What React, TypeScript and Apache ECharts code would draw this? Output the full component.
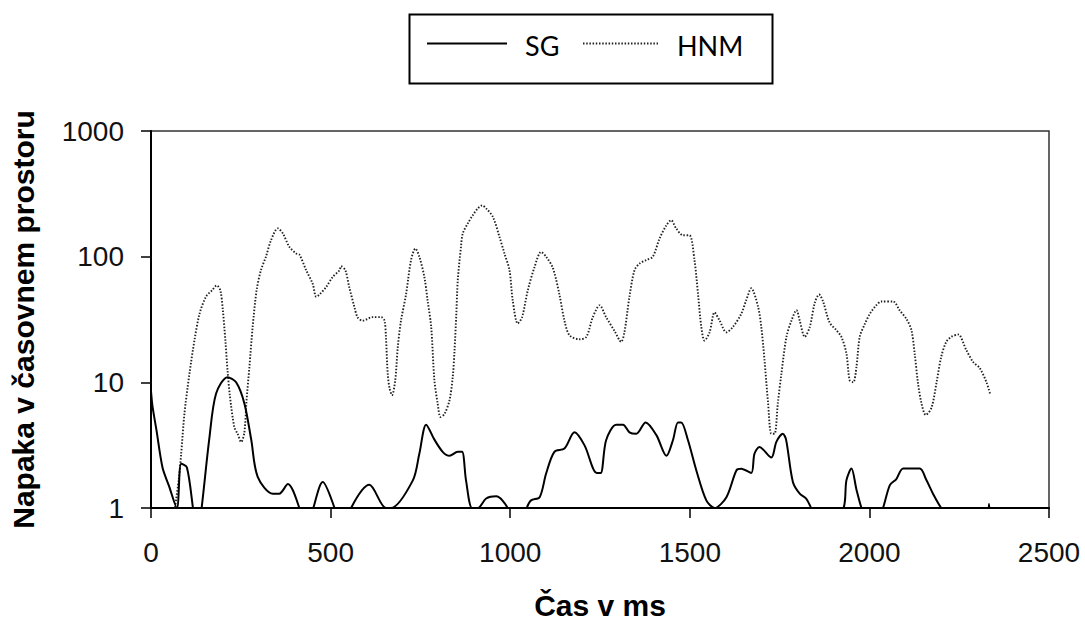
import React, { useEffect, useRef } from "react";
import * as echarts from "echarts";

const seriesNames = ["SG", "HNM"];
const xAxisTitle = "Čas v ms";
const yAxisTitle = "Napaka v časovnem prostoru";
const xTicks = [0, 500, 1000, 1500, 2000, 2500];
const yTicks = [1, 10, 100, 1000];

// SG (solid) – time in ms, error value (values < 1 fall below the log axis and are clipped)
const sgTime = [
  0, 4, 15, 32, 50, 72, 84, 100, 118, 129, 140, 162, 181, 213, 237, 260, 279, 297, 339, 357, 381,
  413, 432, 452, 478, 511, 534, 557, 608, 654, 668, 729, 747, 766, 789, 812, 831, 854, 866, 877,
  894, 910, 933, 961, 993, 1020, 1046, 1058, 1082, 1100, 1123, 1151, 1179, 1207, 1241, 1252,
  1267, 1295, 1314, 1332, 1351, 1377, 1407, 1435, 1453, 1467, 1476, 1495, 1518, 1546, 1569,
  1602, 1630, 1643, 1671, 1680, 1694, 1727, 1741, 1759, 1768, 1787, 1806, 1824, 1838, 1880,
  1928, 1936, 1950, 1964, 1978, 2008, 2038, 2057, 2075, 2094, 2140, 2159, 2177, 2200, 2260,
  2326, 2333, 2340
];
const sgValue = [
  8.5, 6.5, 4.2, 2.1, 1.5, 1.0, 2.25, 2.1, 0.95, 0.6, 0.95, 3.5, 8.1, 11, 10, 6.8, 3.5, 1.77, 1.3, 1.3, 1.55,
  1.0, 0.6, 1.0, 1.61, 1.0, 0.6, 1.0, 1.53, 1.0, 1.0, 1.66, 2.7, 4.6, 3.5, 2.8, 2.6, 2.8, 2.8, 1.66,
  1.0, 1.0, 1.19, 1.24, 1.0, 0.6, 1.0, 1.15, 1.22, 1.88, 2.8, 2.97, 4.0, 3.15, 1.9, 1.9,
  3.46, 4.6, 4.6, 4.0, 3.9, 4.8, 3.8, 2.6, 3.46, 4.8, 4.8, 3.46, 2.0, 1.15, 1.0,
  1.22, 2.0, 2.05, 1.9, 2.7, 3.06, 2.52, 3.36, 3.9, 3.5, 1.61, 1.3, 1.19, 1.0, 0.6,
  1.0, 1.66, 2.06, 1.4, 1.0, 0.6, 1.0, 1.52, 1.7, 2.06, 2.06, 1.66, 1.3, 1.0, 0.6,
  0.6, 1.08, 0.6
];

// HNM (dotted)
const hnmTime = [
  62, 77, 84, 93, 107, 121, 135, 153, 170, 183, 193, 200, 207, 213, 220, 232, 241, 251, 260, 266,
  274, 283, 294, 306, 320, 334, 353, 367, 385, 404, 413, 432, 450, 460, 469, 487, 506, 525, 529,
  541, 552, 566, 575, 589, 617, 641, 650, 654, 659, 664, 671, 680, 687, 696, 710, 724, 736, 747,
  761, 770, 780, 789, 798, 806, 817, 831, 840, 845, 850, 854, 863, 868, 882, 896, 910, 922, 933,
  952, 970, 984, 998, 1007, 1021, 1033, 1049, 1068, 1086, 1100, 1119, 1137, 1151, 1165, 1193,
  1212, 1230, 1249, 1267, 1291, 1309, 1318, 1332, 1346, 1360, 1379, 1397, 1416, 1435, 1448,
  1462, 1481, 1499, 1513, 1523, 1532, 1541, 1555, 1569, 1583, 1602, 1620, 1643, 1657, 1671,
  1690, 1699, 1708, 1718, 1727, 1736, 1745, 1755, 1769, 1783, 1797, 1806, 1820, 1834, 1848,
  1860, 1871, 1889, 1908, 1922, 1936, 1945, 1955, 1964, 1973, 1987, 2001, 2019, 2033, 2066,
  2084, 2103, 2117, 2126, 2135, 2145, 2157, 2173, 2187, 2200, 2214, 2228, 2247, 2270, 2289,
  2307, 2326, 2337
];
const hnmValue = [
  0.8, 1.66, 2.7, 5.6, 11.7, 21.6, 35, 48, 54, 59, 54, 37.5, 21.6, 12.5, 7.65, 4.4, 3.9, 3.35, 4, 7.2,
  13.3, 27.6, 54, 78, 100, 135, 168, 153, 120, 106, 104, 78, 61, 48, 50, 57, 69, 78, 84,
  78, 57, 40, 33, 31, 33, 33, 31, 23, 11.7, 9, 7.9, 10.4, 19, 31, 50, 94, 116, 100,
  69, 45, 27.6, 10.4, 6.8, 5.3, 5.6, 7.2, 11, 18, 35, 65, 120, 153, 184, 214, 242, 256, 242,
  207, 144, 106, 78, 45, 29.4, 33, 54, 83, 109, 100, 81, 50, 31, 23.7, 22,
  23, 33, 41, 33, 25.5, 21, 25, 48, 78, 88, 94, 100, 140, 178, 195,
  168, 148, 148, 94, 50, 27.6, 21.5, 25, 36, 31, 25, 27.6, 35, 45, 56,
  40, 27.6, 15, 6.8, 3.9, 3.9, 6.8, 11.7, 23, 31, 37.5, 31, 23, 27.6, 43,
  50, 44, 30, 26, 23, 17, 10.4, 10, 13.3, 23, 29, 35, 41, 44, 44,
  37.5, 32, 26, 17, 10, 6.8, 5.5, 6.3, 10, 16, 21, 23, 24, 18, 14.5,
  13, 10, 7.9
];

export default function App() {
  const ref = useRef<HTMLDivElement>(null);

  useEffect(() => {
    document.body.style.margin = "0";
    const chart = echarts.init(ref.current as HTMLDivElement, null, { renderer: "svg" });
    const labelFont = "'Liberation Sans', Arial, sans-serif";
    const legendFont = "Lato, 'Open Sans', sans-serif";
    chart.setOption({
      animation: false,
      backgroundColor: "#fff",
      grid: {
        left: 151,
        right: 36,
        top: 131,
        bottom: 114,
        show: true,
        borderColor: "#333",
        borderWidth: 1.5,
        containLabel: false,
        outerBoundsMode: "none",
      },
      xAxis: {
        type: "value",
        min: xTicks[0],
        max: xTicks[xTicks.length - 1],
        interval: xTicks[1] - xTicks[0],
        name: xAxisTitle,
        nameLocation: "middle",
        nameGap: 82,
        nameTextStyle: { fontFamily: labelFont, fontSize: 30, fontWeight: "bold", color: "#000" },
        axisLine: { show: true, lineStyle: { color: "#000", width: 2 } },
        axisTick: { show: true, inside: false, length: 10, lineStyle: { color: "#000", width: 1.5 } },
        axisLabel: {
          margin: 30, fontFamily: labelFont, fontSize: 28, color: "#111",
          formatter: (v: number) => String(v),
        },
        splitLine: { show: false },
      },
      yAxis: {
        type: "log",
        logBase: 10,
        min: yTicks[0],
        max: yTicks[yTicks.length - 1],
        name: yAxisTitle,
        nameLocation: "middle",
        nameGap: 113,
        nameRotate: 90,
        nameTextStyle: { fontFamily: labelFont, fontSize: 30, fontWeight: "bold", color: "#000" },
        axisLine: { show: true, lineStyle: { color: "#000", width: 2 } },
        axisTick: { show: true, inside: false, length: 10, lineStyle: { color: "#000", width: 1.5 } },
        axisLabel: {
          margin: 27, fontFamily: labelFont, fontSize: 28, color: "#111",
          formatter: (v: number) => String(Math.round(v)),
        },
        splitLine: { show: false },
        minorTick: { show: false },
      },
      series: [
        {
          name: seriesNames[0],
          type: "line",
          data: sgTime.map((t, i) => [t, sgValue[i]]),
          symbol: "none",
          showSymbol: false,
          smooth: 0.3,
          clip: true,
          lineStyle: { color: "#000", width: 2 },
          silent: true,
          z: 3,
        },
        {
          name: seriesNames[1],
          type: "line",
          data: hnmTime.map((t, i) => [t, hnmValue[i]]),
          symbol: "none",
          showSymbol: false,
          smooth: 0.3,
          clip: true,
          lineStyle: { color: "#222", width: 1.9, type: [1.5, 1.7] },
          silent: true,
          z: 2,
        },
      ],
      graphic: [
        {
          type: "rect",
          shape: { x: 409.5, y: 14.5, width: 363, height: 69 },
          style: { fill: "#fff", stroke: "#000", lineWidth: 2 },
        },
        {
          type: "line",
          shape: { x1: 427, y1: 43.5, x2: 507, y2: 43.5 },
          style: { stroke: "#000", lineWidth: 2 },
        },
        {
          type: "text",
          style: {
            x: 525, y: 45, text: seriesNames[0], fontFamily: legendFont, fontSize: 27,
            fill: "#000", verticalAlign: "middle", align: "left",
          },
        },
        {
          type: "line",
          shape: { x1: 583, y1: 43.5, x2: 658, y2: 43.5 },
          style: { stroke: "#222", lineWidth: 1.9, lineDash: [1.5, 1.7] },
        },
        {
          type: "text",
          style: {
            x: 677, y: 45, text: seriesNames[1], fontFamily: legendFont, fontSize: 27,
            fill: "#000", verticalAlign: "middle", align: "left",
          },
        },
      ],
    });
    return () => chart.dispose();
  }, []);

  return (
    <div
      ref={ref}
      style={{ position: "absolute", left: 0, top: 0, width: 1085, height: 622 }}
    />
  );
}
